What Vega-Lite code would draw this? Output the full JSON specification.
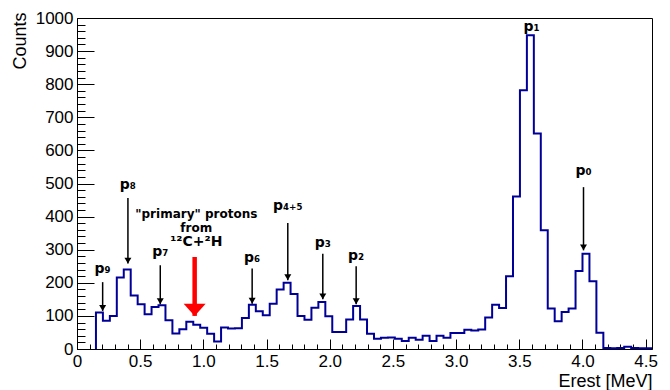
{
  "$schema": "https://vega.github.io/schema/vega-lite/v6.json",
  "width": 575,
  "height": 331,
  "autosize": "none",
  "padding": {"left": 77, "top": 18, "right": 18, "bottom": 41},
  "background": "white",
  "config": {
    "view": {"stroke": "black", "strokeWidth": 1},
    "axis": {
      "grid": false,
      "domainColor": "black",
      "tickColor": "black",
      "labelColor": "black",
      "titleColor": "black",
      "labelFont": "Liberation Sans",
      "titleFont": "Liberation Sans",
      "labelFontSize": 17,
      "titleFontSize": 18,
      "titleFontWeight": "normal",
      "labelFlush": false,
      "labelOverlap": false
    }
  },
  "datasets": {
    "hist": [
      {"i": 0, "E": 0.150, "n": 0},
      {"i": 1, "E": 0.150, "n": 110},
      {"i": 2, "E": 0.205, "n": 85},
      {"i": 3, "E": 0.260, "n": 100},
      {"i": 4, "E": 0.315, "n": 216},
      {"i": 5, "E": 0.370, "n": 240},
      {"i": 6, "E": 0.425, "n": 162},
      {"i": 7, "E": 0.480, "n": 135},
      {"i": 8, "E": 0.535, "n": 105},
      {"i": 9, "E": 0.590, "n": 127},
      {"i": 10, "E": 0.645, "n": 132},
      {"i": 11, "E": 0.700, "n": 87},
      {"i": 12, "E": 0.755, "n": 47},
      {"i": 13, "E": 0.810, "n": 60},
      {"i": 14, "E": 0.865, "n": 82},
      {"i": 15, "E": 0.920, "n": 73},
      {"i": 16, "E": 0.975, "n": 64},
      {"i": 17, "E": 1.030, "n": 46},
      {"i": 18, "E": 1.085, "n": 23},
      {"i": 19, "E": 1.140, "n": 65},
      {"i": 20, "E": 1.195, "n": 62},
      {"i": 21, "E": 1.250, "n": 63},
      {"i": 22, "E": 1.305, "n": 94},
      {"i": 23, "E": 1.360, "n": 134},
      {"i": 24, "E": 1.415, "n": 114},
      {"i": 25, "E": 1.470, "n": 102},
      {"i": 26, "E": 1.525, "n": 137},
      {"i": 27, "E": 1.580, "n": 180},
      {"i": 28, "E": 1.635, "n": 200},
      {"i": 29, "E": 1.690, "n": 166},
      {"i": 30, "E": 1.745, "n": 100},
      {"i": 31, "E": 1.800, "n": 88},
      {"i": 32, "E": 1.855, "n": 125},
      {"i": 33, "E": 1.910, "n": 142},
      {"i": 34, "E": 1.965, "n": 99},
      {"i": 35, "E": 2.020, "n": 51},
      {"i": 36, "E": 2.075, "n": 51},
      {"i": 37, "E": 2.130, "n": 89},
      {"i": 38, "E": 2.185, "n": 130},
      {"i": 39, "E": 2.240, "n": 89},
      {"i": 40, "E": 2.295, "n": 46},
      {"i": 41, "E": 2.350, "n": 31},
      {"i": 42, "E": 2.405, "n": 34},
      {"i": 43, "E": 2.460, "n": 35},
      {"i": 44, "E": 2.515, "n": 31},
      {"i": 45, "E": 2.570, "n": 24},
      {"i": 46, "E": 2.625, "n": 34},
      {"i": 47, "E": 2.680, "n": 28},
      {"i": 48, "E": 2.735, "n": 40},
      {"i": 49, "E": 2.790, "n": 24},
      {"i": 50, "E": 2.845, "n": 40},
      {"i": 51, "E": 2.900, "n": 34},
      {"i": 52, "E": 2.955, "n": 48},
      {"i": 53, "E": 3.010, "n": 48},
      {"i": 54, "E": 3.065, "n": 58},
      {"i": 55, "E": 3.120, "n": 56},
      {"i": 56, "E": 3.175, "n": 59},
      {"i": 57, "E": 3.230, "n": 95},
      {"i": 58, "E": 3.285, "n": 134},
      {"i": 59, "E": 3.340, "n": 124},
      {"i": 60, "E": 3.395, "n": 220},
      {"i": 61, "E": 3.450, "n": 461},
      {"i": 62, "E": 3.505, "n": 782},
      {"i": 63, "E": 3.560, "n": 948},
      {"i": 64, "E": 3.615, "n": 651},
      {"i": 65, "E": 3.670, "n": 359},
      {"i": 66, "E": 3.725, "n": 122},
      {"i": 67, "E": 3.780, "n": 84},
      {"i": 68, "E": 3.835, "n": 112},
      {"i": 69, "E": 3.890, "n": 122},
      {"i": 70, "E": 3.945, "n": 236},
      {"i": 71, "E": 4.000, "n": 288},
      {"i": 72, "E": 4.055, "n": 205},
      {"i": 73, "E": 4.110, "n": 49},
      {"i": 74, "E": 4.165, "n": 3},
      {"i": 75, "E": 4.220, "n": 2},
      {"i": 76, "E": 4.275, "n": 3},
      {"i": 77, "E": 4.330, "n": 7},
      {"i": 78, "E": 4.385, "n": 3},
      {"i": 79, "E": 4.440, "n": 2},
      {"i": 80, "E": 4.495, "n": 2},
      {"i": 81, "E": 4.550, "n": 2}
    ],
    "arrows": [
      {"E": 0.203, "n": 202, "tip": 115},
      {"E": 0.403, "n": 456, "tip": 258},
      {"E": 0.659, "n": 253, "tip": 135},
      {"E": 1.386, "n": 243, "tip": 137},
      {"E": 1.668, "n": 381, "tip": 208},
      {"E": 1.945, "n": 288, "tip": 150},
      {"E": 2.209, "n": 250, "tip": 135},
      {"E": 4.008, "n": 489, "tip": 298}
    ],
    "red": [
      {"E": 0.931, "n": 278, "tip": 100}
    ],
    "plabels": [
      {"E": 0.203, "n": 229, "t": "p₉"},
      {"E": 0.403, "n": 482, "t": "p₈"},
      {"E": 0.659, "n": 280, "t": "p₇"},
      {"E": 1.386, "n": 262, "t": "p₆"},
      {"E": 1.668, "n": 419, "t": "p₄₊₅"},
      {"E": 1.945, "n": 307, "t": "p₃"},
      {"E": 2.209, "n": 268, "t": "p₂"},
      {"E": 3.597, "n": 960, "t": "p₁"},
      {"E": 4.008, "n": 525, "t": "p₀"}
    ],
    "note": [
      {"E": 0.944, "n": 409, "t": "\"primary\" protons"},
      {"E": 0.944, "n": 367, "t": "from"}
    ],
    "reaction": [
      {"E": 0.944, "n": 323, "t": "¹²C+²H"}
    ]
  },
  "encoding": {
    "x": {
      "field": "E",
      "type": "quantitative",
      "title": "Erest [MeV]",
      "scale": {"domain": [0, 4.55], "nice": false, "zero": false},
      "axis": {
        "values": [0,0.1,0.2,0.3,0.4,0.5,0.6,0.7,0.8,0.9,1,1.1,1.2,1.3,1.4,1.5,1.6,1.7,1.8,1.9,2,2.1,2.2,2.3,2.4,2.5,2.6,2.7,2.8,2.9,3,3.1,3.2,3.3,3.4,3.5,3.6,3.7,3.8,3.9,4,4.1,4.2,4.3,4.4,4.5],
        "labelExpr": "round(datum.value*10) % 5 !== 0 ? '' : (datum.value === 0 ? '0' : format(datum.value, '.1f'))",
        "tickSize": {"expr": "round(datum.value*10) % 5 === 0 ? -10 : -5"},
        "labelPadding": 14,
        "titleAnchor": "end",
        "titleAlign": "right",
        "titleBaseline": "alphabetic",
        "titleX": 575,
        "titleY": 37
      }
    },
    "y": {
      "field": "n",
      "type": "quantitative",
      "title": "Counts",
      "scale": {"domain": [0, 1000], "nice": false},
      "axis": {
        "values": [0,20,40,60,80,100,120,140,160,180,200,220,240,260,280,300,320,340,360,380,400,420,440,460,480,500,520,540,560,580,600,620,640,660,680,700,720,740,760,780,800,820,840,860,880,900,920,940,960,980,1000],
        "labelExpr": "datum.value % 100 === 0 ? format(datum.value, 'd') : ''",
        "tickSize": {"expr": "datum.value % 100 === 0 ? -17 : -8"},
        "labelPadding": 21,
        "titleAngle": -90,
        "titleAlign": "right",
        "titleBaseline": "alphabetic",
        "titleX": -52,
        "titleY": -6
      }
    }
  },
  "layer": [
    {
      "data": {"name": "hist"},
      "mark": {"type": "line", "interpolate": "step-after", "color": "#000099", "strokeWidth": 2},
      "encoding": {"order": {"field": "i", "type": "quantitative"}}
    },
    {
      "data": {"name": "arrows"},
      "mark": {"type": "rule", "color": "black", "strokeWidth": 1.5},
      "encoding": {"y2": {"field": "tip"}}
    },
    {
      "data": {"name": "arrows"},
      "mark": {"type": "point", "shape": "M-1,-1.7L1,-1.7L0,0Z", "filled": true, "color": "black", "size": 49, "opacity": 1, "strokeWidth": 0},
      "encoding": {"y": {"field": "tip", "type": "quantitative", "title": "Counts"}}
    },
    {
      "data": {"name": "red"},
      "mark": {"type": "rule", "color": "#ff0000", "strokeWidth": 4.5},
      "encoding": {"y2": {"field": "tip"}}
    },
    {
      "data": {"name": "red"},
      "mark": {"type": "point", "shape": "M-1,-1.1L1,-1.1L0,0Z", "filled": true, "color": "#ff0000", "size": 484, "opacity": 1, "strokeWidth": 0},
      "encoding": {"y": {"field": "tip", "type": "quantitative", "title": "Counts"}}
    },
    {
      "data": {"name": "plabels"},
      "mark": {"type": "text", "font": "DejaVu Sans", "fontWeight": "bold", "fontSize": 14, "align": "center", "baseline": "alphabetic", "color": "black"},
      "encoding": {"text": {"field": "t"}}
    },
    {
      "data": {"name": "note"},
      "mark": {"type": "text", "font": "DejaVu Sans", "fontWeight": "bold", "fontSize": 12, "align": "center", "baseline": "middle", "color": "black"},
      "encoding": {"text": {"field": "t"}}
    },
    {
      "data": {"name": "reaction"},
      "mark": {"type": "text", "font": "DejaVu Sans", "fontWeight": "bold", "fontSize": 14, "align": "center", "baseline": "middle", "color": "black"},
      "encoding": {"text": {"field": "t"}}
    }
  ]
}
